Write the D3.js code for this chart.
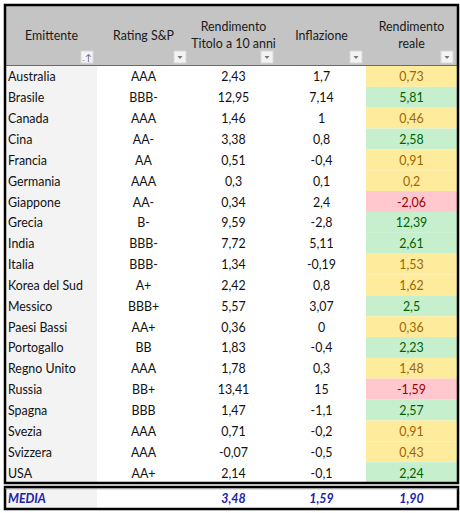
<!DOCTYPE html>
<html><head><meta charset="utf-8">
<script src="https://cdn.jsdelivr.net/npm/d3@7"></script>
<style>body{margin:0;background:#fff}svg{display:block}text{font-family:Lato,"Open Sans",sans-serif}</style>
</head><body><div id="c"></div>
<script>
const countries = ["Australia","Brasile","Canada","Cina","Francia","Germania","Giappone","Grecia","India","Italia","Korea del Sud","Messico","Paesi Bassi","Portogallo","Regno Unito","Russia","Spagna","Svezia","Svizzera","USA"];
const ratings = ["AAA","BBB-","AAA","AA-","AA","AAA","AA-","B-","BBB-","BBB-","A+","BBB+","AA+","BB","AAA","BB+","BBB","AAA","AAA","AA+"];
const yield10 = [2.43,12.95,1.46,3.38,0.51,0.3,0.34,9.59,7.72,1.34,2.42,5.57,0.36,1.83,1.78,13.41,1.47,0.71,-0.07,2.14];
const inflation = [1.7,7.14,1,0.8,-0.4,0.1,2.4,-2.8,5.11,-0.19,0.8,3.07,0,-0.4,0.3,15,-1.1,-0.2,-0.5,-0.1];
const realYield = [0.73,5.81,0.46,2.58,0.91,0.2,-2.06,12.39,2.61,1.53,1.62,2.5,0.36,2.23,1.48,-1.59,2.57,0.91,0.43,2.24];
const headers = [["Emittente"],["Rating S&P"],["Rendimento","Titolo a 10 anni"],["Inflazione"],["Rendimento","reale"]];
const mediaLabel = "MEDIA";
const mediaValues = [3.48,1.59,1.90];

const W=460,H=513;
const svg=d3.select("#c").append("svg").attr("width",W).attr("height",H);
const colEdges=[6,97,190,277,366,457];
const colCenter=i=>(colEdges[i]+colEdges[i+1])/2;
const y=d3.scaleBand().domain(d3.range(countries.length)).range([66,483]);
const fmt=v=>String(v).replace(".",",");
const cat=v=>v<0?"neg":(v<=2?"mid":"pos");
const fillC={neg:"#ffc7ce",mid:"#ffeb9c",pos:"#c6efce"};
const textC={neg:"#9c0006",mid:"#9c6500",pos:"#006100"};
const FS=12.4;

// header
svg.append("rect").attr("x",6).attr("y",6).attr("width",451).attr("height",59).attr("fill","#c4c4c4");
svg.append("line").attr("x1",6).attr("x2",457).attr("y1",65.5).attr("y2",65.5).attr("stroke","#6a6a6a");
headers.forEach((h,i)=>{
  const t=svg.append("text").attr("text-anchor","middle").attr("font-size",FS).attr("fill","#1a1a1a");
  if(h.length==1) t.append("tspan").attr("x",colCenter(i)).attr("y",40).text(h[0]);
  else h.forEach((s,j)=>t.append("tspan").attr("x",colCenter(i)).attr("y",31+j*17).text(s));
  const bx=colEdges[i+1]-16, by=51;
  svg.append("rect").attr("x",bx).attr("y",by).attr("width",12).attr("height",12).attr("fill","#f4f4f4").attr("stroke","#d8d8d8");
  if(i==0){
    svg.append("text").attr("x",bx+6).attr("y",by+10).attr("text-anchor","middle").attr("font-size",9).attr("fill","#555").text("\u208B\u2191");
  } else {
    svg.append("path").attr("d",`M${bx+3.5},${by+5}L${bx+8.5},${by+5}L${bx+6},${by+8}Z`).attr("fill","#777");
  }
});

svg.append("rect").attr("x",6).attr("y",66).attr("width",91).attr("height",417).attr("fill","#f3f3f3");
svg.selectAll(".rf").data(realYield).join("rect").attr("x",colEdges[4]).attr("y",(d,i)=>y(i)).attr("width",colEdges[5]-colEdges[4]).attr("height",y.bandwidth()).attr("fill",d=>fillC[cat(d)]);

const rowsG=svg.append("g").attr("font-size",FS);
const ty=i=>y(i)+y.bandwidth()/2+5;
rowsG.selectAll(".c0").data(countries).join("text").attr("x",8).attr("y",(d,i)=>ty(i)).attr("fill","#111").text(d=>d);
rowsG.selectAll(".c1").data(ratings).join("text").attr("x",colCenter(1)).attr("y",(d,i)=>ty(i)).attr("text-anchor","middle").attr("fill","#111").text(d=>d);
rowsG.selectAll(".c2").data(yield10).join("text").attr("x",colCenter(2)).attr("y",(d,i)=>ty(i)).attr("text-anchor","middle").attr("fill","#111").text(fmt);
rowsG.selectAll(".c3").data(inflation).join("text").attr("x",colCenter(3)).attr("y",(d,i)=>ty(i)).attr("text-anchor","middle").attr("fill","#111").text(fmt);
rowsG.selectAll(".c4").data(realYield).join("text").attr("x",colCenter(4)).attr("y",(d,i)=>ty(i)).attr("text-anchor","middle").attr("fill",d=>textC[cat(d)]).text(fmt);

svg.append("rect").attr("x",5).attr("y",5).attr("width",453).attr("height",478).attr("fill","none").attr("stroke","#000").attr("stroke-width",2.5);

svg.append("rect").attr("x",6).attr("y",488).attr("width",91).attr("height",20).attr("fill","#f3f3f3");
svg.append("rect").attr("x",5).attr("y",487).attr("width",453).attr("height",22).attr("fill","none").attr("stroke","#000").attr("stroke-width",2.5);
svg.append("line").attr("x1",5).attr("x2",458).attr("y1",488.8).attr("y2",488.8).attr("stroke","#888").attr("stroke-width",0.8);
const mG=svg.append("g").attr("font-size",FS).attr("font-style","italic").attr("font-weight","bold").attr("fill","#2222a8");
mG.append("text").attr("x",8).attr("y",503).text(mediaLabel);
mG.selectAll(".mv").data(mediaValues).join("text").attr("x",(d,i)=>colCenter(i+2)).attr("y",503).attr("text-anchor","middle").text(d=>d.toFixed(2).replace(".",","));
</script></body></html>
